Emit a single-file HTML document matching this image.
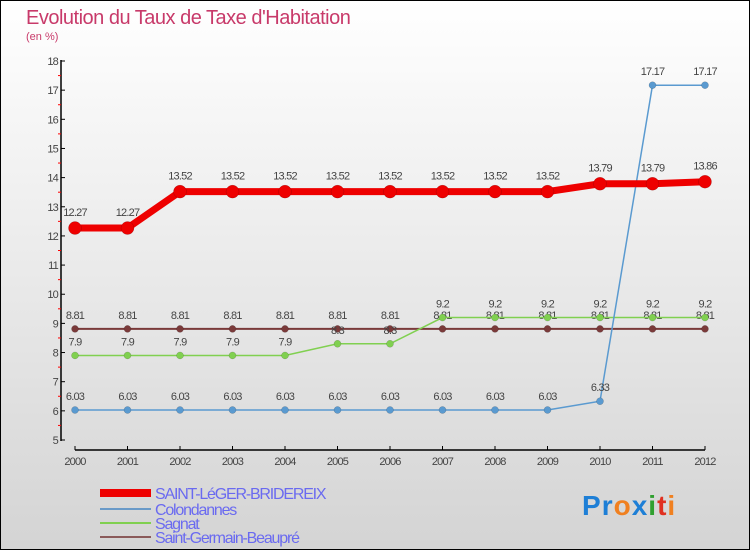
<!DOCTYPE html>
<html><head><meta charset="utf-8"><style>
html,body{margin:0;padding:0}
body{width:750px;height:550px;overflow:hidden;font-family:"Liberation Sans",sans-serif}
#wrap{position:absolute;left:0;top:0;width:748px;height:548px;border:1px solid #000;background:linear-gradient(#ffffff,#d4d4d4)}
</style></head><body>
<div id="wrap">
<svg id="chart" width="750" height="550" style="position:absolute;left:-1px;top:-1px">
<text x="26" y="24" font-size="20" fill="#c83a6a" letter-spacing="-0.5">Evolution du Taux de Taxe d'Habitation</text>
<text x="26" y="40" font-size="11" fill="#c83a6a">(en %)</text>
<g id="axes"></g>
<g id="series"></g>
<g id="legend"></g>
<text x="582" y="515" font-size="28" font-weight="bold" letter-spacing="1"><tspan fill="#1e7fd6">P</tspan><tspan fill="#1e7fd6">r</tspan><tspan fill="#f08020">o</tspan><tspan fill="#1e7fd6">x</tspan><tspan fill="#30a030">i</tspan><tspan fill="#e03020">t</tspan><tspan fill="#f08020">i</tspan></text>
</svg>
</div>
<script>
const years=[2000,2001,2002,2003,2004,2005,2006,2007,2008,2009,2010,2011,2012];
const yTicks=[5,6,7,8,9,10,11,12,13,14,15,16,17,18];
const saintLeger=[12.27,12.27,13.52,13.52,13.52,13.52,13.52,13.52,13.52,13.52,13.79,13.79,13.86];
const colondannes=[6.03,6.03,6.03,6.03,6.03,6.03,6.03,6.03,6.03,6.03,6.33,17.17,17.17];
const sagnat=[7.9,7.9,7.9,7.9,7.9,8.3,8.3,9.2,9.2,9.2,9.2,9.2,9.2];
const saintGermain=[8.81,8.81,8.81,8.81,8.81,8.81,8.81,8.81,8.81,8.81,8.81,8.81,8.81];
const sagnatLabels=["7.9","7.9","7.9","7.9","7.9","8.3","8.3","9.2","9.2","9.2","9.2","9.2","9.2"];
const NS="http://www.w3.org/2000/svg";
const X=i=>75+i*52.5;
const Y=v=>440-(v-5)*(379/13);
function mk(tag,attrs,parent,txt){const e=document.createElementNS(NS,tag);for(const k in attrs)e.setAttribute(k,attrs[k]);if(txt!==undefined)e.textContent=txt;parent.appendChild(e);return e;}
const ax=document.getElementById('axes');
let e=mk('line',{x1:61,y1:60,x2:61,y2:441,stroke:'#000','stroke-width':1.5},ax);

e=mk('line',{x1:75,y1:450,x2:705,y2:450,stroke:'#000','stroke-width':1.5},ax);

yTicks.forEach(t=>{
 mk('line',{x1:61,y1:Y(t),x2:65,y2:Y(t),stroke:'#000'},ax);
 if(t<18)mk('line',{x1:58,y1:Y(t+0.5),x2:61,y2:Y(t+0.5),stroke:'#f00'},ax);
 const l=mk('text',{x:58,y:Y(t)+4,'font-size':11,fill:'#444','text-anchor':'end','letter-spacing':'-0.8'},ax,String(t));
 
});
years.forEach((yr,i)=>{
 mk('line',{x1:X(i),y1:446,x2:X(i),y2:450,stroke:'#000'},ax);
 const l=mk('text',{x:X(i),y:465,'font-size':11,fill:'#444','text-anchor':'middle','letter-spacing':'-0.8'},ax,String(yr));
 
});
const sg=document.getElementById('series');
function series(name,vals,color,w,r,labels,dy){
 const g=mk('g',{},sg);
 
 mk('polyline',{points:vals.map((v,i)=>X(i)+','+Y(v)).join(' '),fill:'none',stroke:color,'stroke-width':w},g);
 vals.forEach((v,i)=>{
  const c=mk('circle',{cx:X(i),cy:Y(v),r:r,fill:color,stroke:'rgba(0,0,0,0.25)','stroke-width':0.5},g);
  
  mk('text',{x:X(i),y:Y(v)+dy,'font-size':11,fill:'#444','text-anchor':'middle','letter-spacing':'-0.8'},g,labels?labels[i]:String(v));
 });
}
series('series-saint-germain',saintGermain,'#7a3a3a',2,3.5,null,-10);
series('series-sagnat',sagnat,'#80d050',1.5,3.5,sagnatLabels,-10);
series('series-colondannes',colondannes,'#5a9ad0',1.5,3.5,null,-10);
series('series-saint-leger',saintLeger,'#ee0000',7,6.5,null,-12);
const lg=document.getElementById('legend');
const items=[['SAINT-LéGER-BRIDEREIX','#ee0000',8,493],['Colondannes','#6a9ac8',2,509],['Sagnat','#80d050',2,523],['Saint-Germain-Beaupré','#8a5a5a',2,537]];
items.forEach(it=>{
 const g=mk('g',{},lg);
 
 mk('line',{x1:100,y1:it[3],x2:151,y2:it[3],stroke:it[1],'stroke-width':it[2]},g);
 mk('text',{x:155,y:it[3]+6,'font-size':16,fill:'#6a6af0','letter-spacing':'-1.2'},g,it[0]);
});
</script>
</body></html>
